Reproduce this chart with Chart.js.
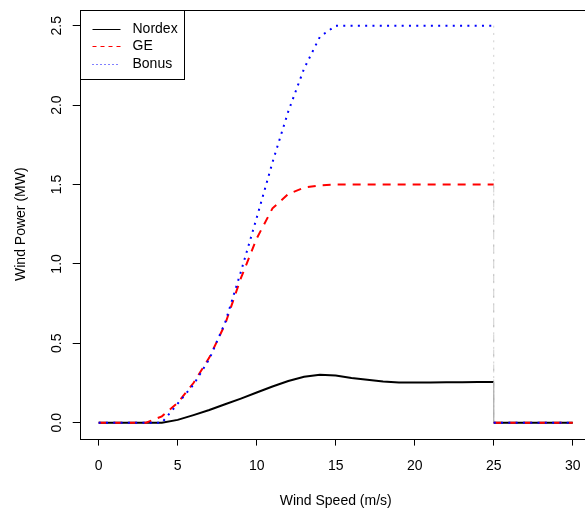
<!DOCTYPE html>
<html>
<head>
<meta charset="utf-8">
<script src="https://cdn.jsdelivr.net/npm/chart.js@4/dist/chart.umd.min.js"></script>
<style>
  html, body { margin: 0; padding: 0; background: #fff; overflow: hidden; }
  #chart { display: block; }
</style>
</head>
<body>
<canvas id="chart" width="600" height="508"></canvas>
<script>
// power curves, wind speed in m/s, power in MW (cut-out at 25 m/s)
const speeds = [0, 1, 2, 3, 4, 5, 6, 7, 8, 9, 10, 11, 12, 13, 14, 15, 16, 17, 18, 19, 20,
                21, 22, 23, 24, 25, 25, 26, 27, 28, 29, 30];
const nordex = [0, 0, 0, 0, 0, 0.018, 0.048, 0.08, 0.116, 0.152, 0.19, 0.228, 0.263, 0.29,
                0.302, 0.298, 0.282, 0.27, 0.26, 0.254, 0.253, 0.254, 0.255, 0.255, 0.256, 0.257,
                0, 0, 0, 0, 0, 0];
const ge     = [0, 0, 0, 0, 0.04, 0.125, 0.25, 0.41, 0.62, 0.91, 1.16, 1.35, 1.44, 1.48,
                1.495, 1.5, 1.5, 1.5, 1.5, 1.5, 1.5, 1.5, 1.5, 1.5, 1.5, 1.5,
                0, 0, 0, 0, 0, 0];
const bonus  = [0, 0, 0, 0, 0, 0.12, 0.24, 0.40, 0.63, 0.95, 1.29, 1.64, 1.96, 2.23,
                2.43, 2.5, 2.5, 2.5, 2.5, 2.5, 2.5, 2.5, 2.5, 2.5, 2.5, 2.5,
                0, 0, 0, 0, 0, 0];

const xTicks = [0, 5, 10, 15, 20, 25, 30];
const yTicks = [0, 0.5, 1, 1.5, 2, 2.5];

const FONT = 'Liberation Sans, Arial, Helvetica, sans-serif';

const pairs = ys => speeds.map((x, i) => ({ x, y: ys[i] }));

// the drop at cut-out is drawn as a faint hairline
const cutoutSegment = {
  borderColor: ctx => ctx.p0.parsed.x === ctx.p1.parsed.x ? 'rgba(170,170,170,0.55)' : undefined,
  borderWidth: ctx => ctx.p0.parsed.x === ctx.p1.parsed.x ? 1 : undefined
};

// later series are drawn over earlier ones
const series = [
  { label: 'Nordex', data: pairs(nordex), color: '#000000', dash: [],      legendDash: [],     order: 2 },
  { label: 'GE',     data: pairs(ge),     color: '#ff0000', dash: [8, 7],   legendDash: [4, 4], order: 1 },
  { label: 'Bonus',  data: pairs(bonus),  color: '#0000ff', dash: [2, 5.3], legendDash: [1, 3], order: 0 }
];

// frame around the plot region plus an R-style boxed legend
const frameAndLegend = {
  id: 'frameAndLegend',
  afterDraw(chart) {
    const { ctx, chartArea: a } = chart;
    ctx.save();
    ctx.strokeStyle = '#000';
    ctx.lineWidth = 1;
    ctx.setLineDash([]);
    const L = Math.round(a.left) + 0.5, T = Math.round(a.top) + 0.5;
    const R = Math.round(a.right) + 0.5, B = Math.round(a.bottom) + 0.5;
    ctx.strokeRect(L, T, R - L, B - T);

    // legend
    const boxW = 104, boxH = 69;
    ctx.fillStyle = '#fff';
    ctx.fillRect(L, T, boxW, boxH);
    ctx.strokeRect(L, T, boxW, boxH);
    ctx.font = '14px ' + FONT;
    ctx.textBaseline = 'middle';
    ctx.textAlign = 'left';
    series.forEach((s, i) => {
      const y = Math.round(T + 18 + i * 17.5) + 0.5;
      ctx.beginPath();
      ctx.strokeStyle = s.color;
      ctx.setLineDash(s.legendDash);
      ctx.moveTo(L + 12, y);
      ctx.lineTo(L + 40, y);
      ctx.stroke();
      ctx.fillStyle = '#000';
      ctx.fillText(s.label, L + 52, y);
    });
    ctx.restore();
  }
};

new Chart(document.getElementById('chart'), {
  type: 'line',
  data: {
    datasets: series.map(s => ({
      label: s.label,
      data: s.data,
      order: s.order,
      borderColor: s.color,
      borderWidth: 2,
      borderDash: s.dash,
      pointRadius: 0,
      tension: 0,
      fill: false,
      segment: cutoutSegment
    }))
  },
  options: {
    responsive: false,
    devicePixelRatio: 1,
    animation: false,
    layout: { padding: { left: 0, right: 8.3, top: 9.8, bottom: 0 } },
    plugins: { legend: { display: false }, tooltip: { enabled: false } },
    scales: {
      x: {
        type: 'linear',
        min: -1.2,
        max: 31.2,
        afterBuildTicks: s => { s.ticks = xTicks.map(v => ({ value: v })); },
        afterFit: s => { s.height = 69.4; s.paddingLeft = 0; s.paddingRight = 0; },
        grid: { drawOnChartArea: false, drawTicks: true, tickLength: 7, color: '#000' },
        border: { display: false },
        ticks: { color: '#000', padding: 12, maxRotation: 0, font: { family: FONT, size: 14 } },
        title: {
          display: true, text: 'Wind Speed (m/s)', color: '#000',
          font: { family: FONT, size: 14, lineHeight: 1 }, padding: { top: 0, bottom: 0 }
        }
      },
      y: {
        type: 'linear',
        min: -0.1,
        max: 2.6,
        afterBuildTicks: s => { s.ticks = yTicks.map(v => ({ value: v })); },
        afterFit: s => { s.width = 79.7; s.paddingTop = 0; s.paddingBottom = 0; },
        grid: { drawOnChartArea: false, drawTicks: true, tickLength: 7, color: '#000' },
        border: { display: false },
        ticks: {
          color: '#000', padding: 6, minRotation: 90, maxRotation: 90, crossAlign: 'center',
          font: { family: FONT, size: 14 },
          callback: v => v.toFixed(1)
        },
        title: {
          display: true, text: 'Wind Power (MW)', color: '#000',
          font: { family: FONT, size: 14, lineHeight: 1 }, padding: { top: 13.7, bottom: 0 }
        }
      }
    }
  },
  plugins: [frameAndLegend]
});
</script>
</body>
</html>
